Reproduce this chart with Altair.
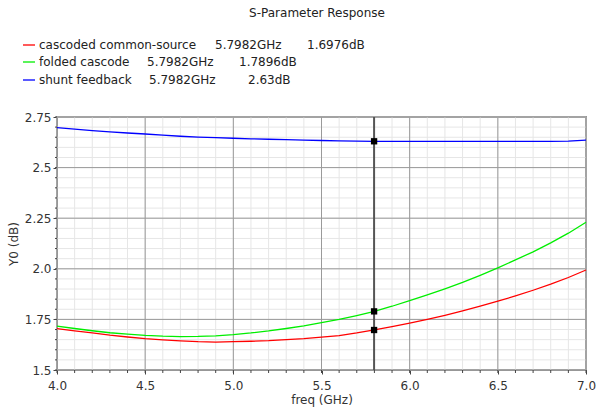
import altair as alt
import pandas as pd

# ---------------- data ----------------
freq = [4.0, 4.1, 4.2, 4.3, 4.4, 4.5, 4.6, 4.7, 4.8, 4.9,
        5.0, 5.1, 5.2, 5.3, 5.4, 5.5, 5.6, 5.7, 5.8, 5.9,
        6.0, 6.1, 6.2, 6.3, 6.4, 6.5, 6.6, 6.7, 6.8, 6.9, 7.0]
cascoded_cs = [1.704, 1.693, 1.683, 1.672, 1.663, 1.655, 1.649, 1.644, 1.640, 1.638,
               1.640, 1.642, 1.645, 1.650, 1.655, 1.662, 1.670, 1.683, 1.698, 1.714,
               1.732, 1.750, 1.770, 1.792, 1.815, 1.840, 1.866, 1.894, 1.924, 1.957, 1.994]
folded_cascode = [1.717, 1.705, 1.694, 1.684, 1.677, 1.671, 1.667, 1.665, 1.666, 1.669,
                  1.675, 1.683, 1.693, 1.705, 1.718, 1.734, 1.750, 1.769, 1.790, 1.815,
                  1.843, 1.871, 1.901, 1.933, 1.968, 2.005, 2.044, 2.084, 2.128, 2.176, 2.230]
shunt_feedback = [2.697, 2.690, 2.683, 2.677, 2.671, 2.666, 2.660, 2.655, 2.651, 2.648,
                  2.645, 2.642, 2.640, 2.638, 2.636, 2.634, 2.632, 2.631, 2.630, 2.630,
                  2.630, 2.630, 2.630, 2.630, 2.630, 2.630, 2.630, 2.630, 2.630, 2.631, 2.636]

series_names = ["cascoded common-source", "folded cascode", "shunt feedback"]
series_colors = ["#ff0000", "#00ee00", "#0000ff"]

cursor_freq = 5.7982
cursor_values = [1.6976, 1.7896, 2.63]
cursor_freq_labels = ["5.7982GHz", "5.7982GHz", "5.7982GHz"]
cursor_value_labels = ["1.6976dB", "1.7896dB", "2.63dB"]

x_major = [4.0, 4.5, 5.0, 5.5, 6.0, 6.5, 7.0]
y_major = [1.5, 1.75, 2.0, 2.25, 2.5, 2.75]
x_minor = freq
y_minor = [1.5, 1.55, 1.6, 1.65, 1.7, 1.75, 1.8, 1.85, 1.9, 1.95,
           2.0, 2.05, 2.1, 2.15, 2.2, 2.25, 2.3, 2.35, 2.4, 2.45,
           2.5, 2.55, 2.6, 2.65, 2.7, 2.75]

title_text = "S-Parameter Response"
x_title = "freq (GHz)"
y_title = "Y0 (dB)"

# ---------------- layout ----------------
W, H = 529, 253
FONT = "DejaVu Sans"

rows = []
for name, vals in zip(series_names, [cascoded_cs, folded_cascode, shunt_feedback]):
    for f, v in zip(freq, vals):
        rows.append({"freq": f, "val": v, "series": name})
df = pd.DataFrame(rows)

xs = alt.Scale(domain=[4.0, 7.0], nice=False, zero=False)
ys = alt.Scale(domain=[1.5, 2.75], nice=False, zero=False)
cscale = alt.Scale(domain=series_names, range=series_colors)

x_axis = alt.Axis(values=x_major, format=".1f", grid=False, tickSize=4,
                  tickColor="#444", domainColor="#444", labelFont=FONT,
                  labelFontSize=12, labelColor="#333", labelPadding=6,
                  labelFlush=False, labelOverlap=False,
                  title=x_title, titleFont=FONT, titleFontSize=12,
                  titleFontWeight="normal", titleColor="#333", titlePadding=3)
y_axis = alt.Axis(values=y_major, grid=False, tickSize=4, tickColor="#444",
                  domainColor="#444", labelFont=FONT, labelFontSize=12,
                  labelColor="#333", labelPadding=2, labelFlush=False, labelOverlap=False,
                  labelExpr="datum.value % 0.5 == 0 ? format(datum.value, '.1f') : format(datum.value, '.2f')",
                  title=y_title, titleFont=FONT, titleFontSize=12,
                  titleFontWeight="normal", titleColor="#333", titlePadding=4)

def X(field):
    return alt.X(field, scale=xs, axis=x_axis)

def Y(field):
    return alt.Y(field, scale=ys, axis=y_axis)

def vrules(vals, color, width=1):
    return alt.Chart(pd.DataFrame({"x": vals})).mark_rule(color=color, strokeWidth=width).encode(
        x=X("x:Q"), y=alt.value(0), y2=alt.value(H))

def hrules(vals, color, width=1):
    return alt.Chart(pd.DataFrame({"y": vals})).mark_rule(color=color, strokeWidth=width).encode(
        y=Y("y:Q"), x=alt.value(0), x2=alt.value(W))

minor_c = "#e6e6e6"
major_c = "#9a9a9a"

grid = [vrules(x_minor, minor_c), hrules(y_minor, minor_c),
        vrules(x_major, major_c), hrules(y_major, major_c)]

# minor ticks outside the frame
xtick_minor = alt.Chart(pd.DataFrame({"x": x_minor})).mark_rule(color="#444").encode(
    x=X("x:Q"), y=alt.value(H), y2=alt.value(H + 3))
ytick_minor = alt.Chart(pd.DataFrame({"y": y_minor})).mark_rule(color="#444").encode(
    y=Y("y:Q"), x=alt.value(-2), x2=alt.value(0))

lines = alt.Chart(df).mark_line(strokeWidth=1.3).encode(
    x=X("freq:Q"),
    y=Y("val:Q"),
    color=alt.Color("series:N", scale=cscale, legend=None),
    detail="series:N",
)

cursor = alt.Chart(pd.DataFrame({"x": [cursor_freq]})).mark_rule(color="#555", strokeWidth=2).encode(
    x=X("x:Q"), y=alt.value(0), y2=alt.value(H))

markers = alt.Chart(pd.DataFrame({"x": [cursor_freq] * 3, "y": cursor_values})).mark_point(
    shape="square", filled=True, color="black", size=40, opacity=1).encode(
    x=X("x:Q"), y=Y("y:Q"))

# legend (custom, above the plot)
legend_layers = []
row_y = [-72, -55, -37]
freq_x = [158, 90, 92]
val_x = [250, 182, 191]
for i in range(3):
    d = pd.DataFrame({"name": [series_names[i]], "f": [cursor_freq_labels[i]],
                      "v": [cursor_value_labels[i]], "c": [series_colors[i]]})
    base = alt.Chart(d)
    legend_layers.append(base.mark_rule(strokeWidth=1.3).encode(
        x=alt.value(-34), x2=alt.value(-22), y=alt.value(row_y[i]),
        color=alt.Color("c:N", scale=None)))
    for field, xp in [("name", -18), ("f", freq_x[i]), ("v", val_x[i])]:
        legend_layers.append(base.mark_text(align="left", baseline="middle", font=FONT,
                                            fontSize=12, color="#222").encode(
            x=alt.value(xp), y=alt.value(row_y[i]), text=f"{field}:N"))

title = alt.Chart(pd.DataFrame({"t": [title_text]})).mark_text(
    align="center", baseline="middle", font=FONT, fontSize=12, color="#222").encode(
    x=alt.value(260), y=alt.value(-104), text="t:N")

chart = alt.layer(*grid, xtick_minor, ytick_minor, lines, cursor, markers,
                  *legend_layers, title).properties(
    width=W, height=H,
    autosize=alt.AutoSizeParams(type="none"),
    padding={"left": 57, "top": 117, "right": 10, "bottom": 39},
    background="white",
).configure_view(stroke="#444", strokeWidth=1.5)

chart.save("out.html", embed_options={"renderer": "svg", "actions": False})
